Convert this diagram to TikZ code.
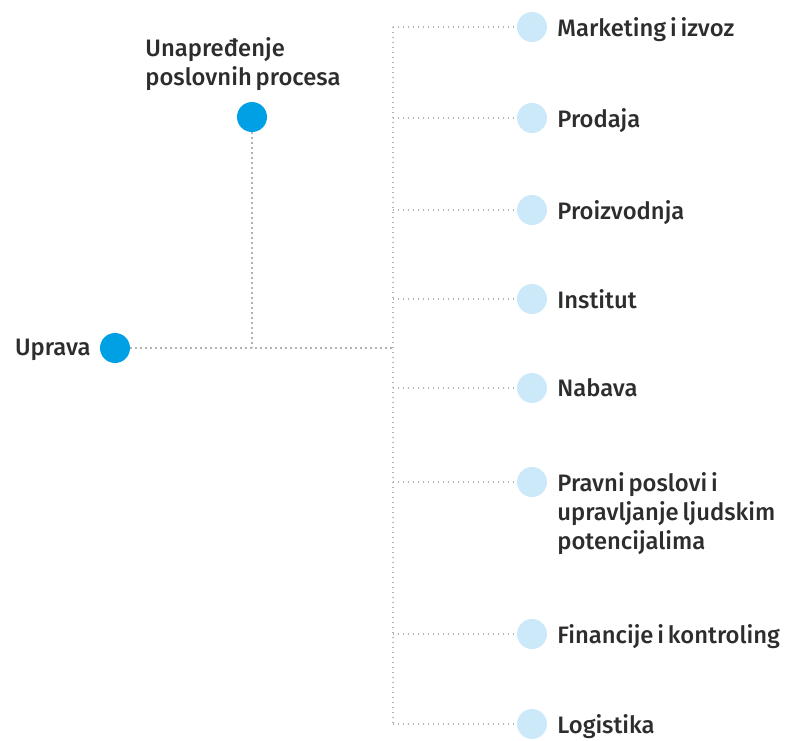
\documentclass[tikz,border=0pt]{standalone}
\usepackage{fontspec}
\setmainfont{Fira Sans}[UprightFont=* Medium, WordSpace=0.65]
\usetikzlibrary{positioning}
\definecolor{plava}{RGB}{0,160,228}
\definecolor{svijetla}{RGB}{204,233,250}
\definecolor{tekst}{RGB}{45,45,45}
\tikzset{
  tocka/.style={circle, fill=plava, minimum size=15pt, inner sep=0pt},
  podtocka/.style={circle, fill=svijetla, minimum size=15pt, inner sep=0pt},
  veza/.style={gray!60, line width=0.65pt, dash pattern=on 0.65pt off 1.85pt},
  natpis/.style={text=tekst, font=\fontsize{11.9}{14.5}\selectfont, inner sep=0pt, align=left},
}

\begin{document}
\begin{tikzpicture}[x=0.5pt, y=-0.5pt]
  \useasboundingbox (0,0) rectangle (788,740);
  % Uprava
  \node[tocka] (uprava) at (115,348) {};
  \node[natpis, anchor=north east] (upravaT) at (91,339) {Uprava};
  % Unapredjenje procesa
  \node[tocka] (unap) at (252,117) {};
  \node[natpis, anchor=north west] (unapT) at (145,37) {Unapređenje\\poslovnih procesa};
  % Okosnica
  \coordinate (spoj) at (252,348);
  \coordinate (cvor) at (393,348);
  \coordinate (vrh) at (393,27);
  \coordinate (dno) at (393,724);
  \draw[veza] (uprava) -- (cvor);
  \draw[veza] (unap) -- (spoj);
  \draw[veza] (vrh) -- (dno);
  % Odjeli
  \foreach \ime/\y/\naziv in {mark/27/Marketing i izvoz, prod/118/Prodaja,
      proiz/210/Proizvodnja, inst/299/Institut, nab/388/Nabava,
      prav/482/{Pravni poslovi i\\upravljanje ljudskim\\potencijalima},
      fin/634/Financije i kontroling, log/724/Logistika}{
    \coordinate (\ime-s) at (393,\y);
    \node[podtocka] (\ime) at (532,\y) {};
    \node[natpis, anchor=north west] (\ime-t) at (557,\y-10) {\naziv};
    \draw[veza] (\ime-s) -- (\ime);
  }
\end{tikzpicture}
\end{document}
